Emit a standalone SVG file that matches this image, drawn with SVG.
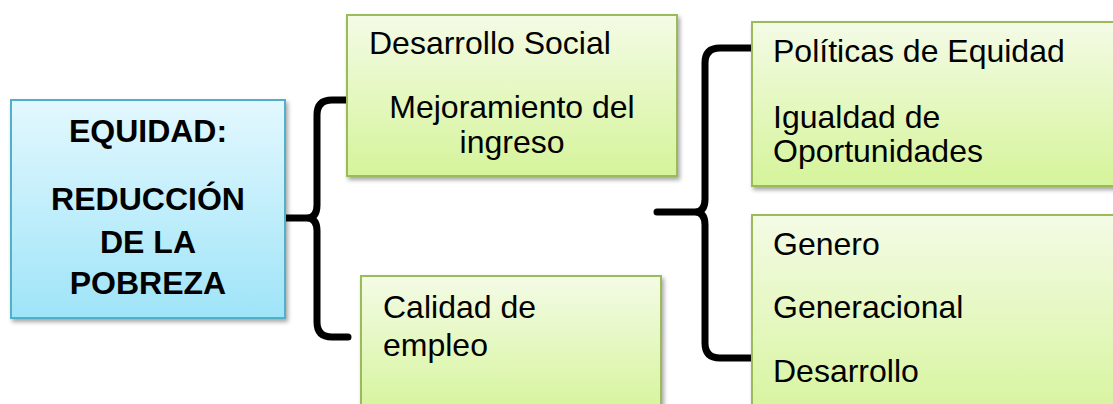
<svg xmlns="http://www.w3.org/2000/svg" width="1113" height="404" viewBox="0 0 1113 404">
<defs>
<linearGradient id="gBlue" x1="0" y1="0" x2="0" y2="1">
<stop offset="0" stop-color="#e3f8fe"/>
<stop offset="1" stop-color="#9fe4f8"/>
</linearGradient>
<linearGradient id="gGreen" x1="0" y1="0" x2="0" y2="1">
<stop offset="0" stop-color="#f4fbe6"/>
<stop offset="1" stop-color="#d5f49a"/>
</linearGradient>
<filter id="sh" x="-10%" y="-10%" width="125%" height="125%">
<feDropShadow dx="2" dy="3" stdDeviation="2" flood-color="#000" flood-opacity="0.35"/>
</filter>
</defs>
<style>
.blue{fill:url(#gBlue);stroke:#4fb0c9;stroke-width:2;filter:url(#sh)}
.green{fill:url(#gGreen);stroke:#9bbb59;stroke-width:2;filter:url(#sh)}
.t{font-family:"Liberation Sans",Arial,sans-serif;font-size:32px;fill:#000}
.b{font-weight:bold;text-anchor:middle}
.c{text-anchor:middle}
.br{fill:none;stroke:#000;stroke-width:7;stroke-linecap:round;stroke-linejoin:round}
</style>
<g id="connectors">
<path class="br" d="M348,100 L332,100 Q317,100 317,115 L317,205 Q317,218 307,218 L284,218 M307,218 Q317,218 317,231 L317,322 Q317,337 332,337 L348,337"/>
<path class="br" d="M753,48 L720,48 Q705,48 705,63 L705,199 Q705,212 695,212 L657,212 M695,212 Q705,212 705,225 L705,343 Q705,358 720,358 L753,358"/>
</g>
<g id="node-equidad">
<rect class="blue" x="11" y="100" width="274" height="218"/>
<text class="t b" x="148" y="142">EQUIDAD:</text>
<text class="t b" x="148" y="210">REDUCCIÓN</text>
<text class="t b" x="148" y="253">DE LA</text>
<text class="t b" x="148" y="294">POBREZA</text>
</g>
<g id="node-desarrollo-social">
<rect class="green" x="347" y="15" width="330" height="161"/>
<text class="t" x="369" y="54">Desarrollo Social</text>
<text class="t c" x="512" y="118">Mejoramiento del</text>
<text class="t c" x="512" y="153">ingreso</text>
</g>
<g id="node-calidad">
<rect class="green" x="361" y="276" width="300" height="140"/>
<text class="t" x="383" y="318">Calidad de</text>
<text class="t" x="383" y="356">empleo</text>
</g>
<g id="node-politicas">
<rect class="green" x="752" y="22" width="380" height="164"/>
<text class="t" x="773" y="62">Políticas de Equidad</text>
<text class="t" x="773" y="128">Igualdad de</text>
<text class="t" x="773" y="162">Oportunidades</text>
</g>
<g id="node-genero">
<rect class="green" x="752" y="215" width="380" height="210"/>
<text class="t" x="773" y="255">Genero</text>
<text class="t" x="773" y="318">Generacional</text>
<text class="t" x="773" y="382">Desarrollo</text>
</g>
</svg>
